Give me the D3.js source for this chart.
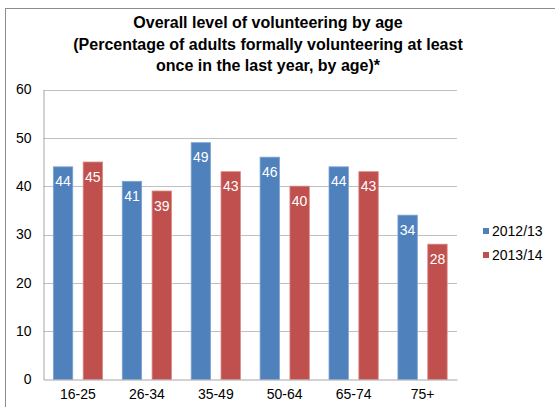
<!DOCTYPE html>
<html><head><meta charset="utf-8">
<script src="https://cdn.jsdelivr.net/npm/d3@7"></script>
<style>body{margin:0;background:#fff;}svg{display:block;font-family:"Liberation Sans",Arial,sans-serif;}</style>
</head><body><svg id="c" width="555" height="407"></svg>
<script>
const categories = ["16-25","26-34","35-49","50-64","65-74","75+"];
const seriesNames = ["2012/13","2013/14"];
const values2012 = [44,41,49,46,44,34];
const values2013 = [45,39,43,40,43,28];
const yTicks = [0,10,20,30,40,50,60];
const colors = ["#4F81BD","#C0504D"];
const strokes = ["#7FA3D3","#D98986"];

(function(){
const svg = d3.select("#c");
// frame
svg.append("rect").attr("x",5.5).attr("y",8.5).attr("width",560).attr("height",410)
  .attr("fill","#fff").attr("stroke","#8c8c8c").attr("stroke-width",1);

const titleLines = ["Overall level of volunteering by age","(Percentage of adults formally volunteering at least","once in the last year, by age)*"];
svg.append("g").selectAll("text").data(titleLines).join("text")
  .attr("x",268).attr("y",(d,i)=>28+i*21.5).attr("text-anchor","middle")
  .attr("font-size",16).attr("font-weight","bold").attr("fill","#000").text(d=>d);

const pLeft=43.5, pRight=457, pTop=89.5, pBottom=379.5;
const x0 = d3.scaleBand().domain(categories).range([pLeft,pRight]).paddingInner(0).paddingOuter(0);
const x1 = d3.scaleBand().domain(seriesNames).range([0,x0.bandwidth()]).paddingInner(0.35).paddingOuter(0.33);
const y = d3.scaleLinear().domain([0,60]).range([pBottom,pTop]);

// gridlines
svg.append("g").selectAll("line").data(yTicks.filter(t=>t>0)).join("line")
  .attr("x1",pLeft).attr("x2",pRight).attr("y1",d=>Math.round(y(d))+0.5).attr("y2",d=>Math.round(y(d))+0.5)
  .attr("stroke","#c0c0c0").attr("stroke-width",1);

// y axis
const yAxis = d3.axisLeft(y).tickValues(yTicks).tickSize(0).tickPadding(12);
const ga = svg.append("g").attr("transform",`translate(${pLeft},0)`).call(yAxis);
ga.select(".domain").attr("stroke","#a6a6a6");
ga.selectAll("text").attr("font-size",14).attr("fill","#000").attr("font-family","Liberation Sans, Arial, sans-serif");

// bars
const data = categories.map((c,i)=>({cat:c, vals:[values2012[i],values2013[i]]}));
const groups = svg.append("g").selectAll("g").data(data).join("g")
  .attr("transform",d=>`translate(${x0(d.cat)},0)`);
groups.selectAll("rect").data(d=>d.vals.map((v,j)=>({v,j}))).join("rect")
  .attr("x",d=>x1(seriesNames[d.j])).attr("width",x1.bandwidth())
  .attr("y",d=>y(d.v)).attr("height",d=>y(0)-y(d.v))
  .attr("fill",d=>colors[d.j]).attr("stroke",d=>strokes[d.j]).attr("stroke-width",0.8);
groups.selectAll("text").data(d=>d.vals.map((v,j)=>({v,j}))).join("text")
  .attr("x",d=>x1(seriesNames[d.j])+x1.bandwidth()/2).attr("y",d=>y(d.v)+19.5)
  .attr("text-anchor","middle").attr("font-size",14).attr("fill","#fff").text(d=>d.v);

// x axis
const xAxis = d3.axisBottom(x0).tickSize(0).tickPadding(10);
const gx = svg.append("g").attr("transform",`translate(0,${pBottom})`).call(xAxis);
gx.select(".domain").attr("stroke","#a6a6a6");
gx.selectAll("text").attr("font-size",14).attr("fill","#000").attr("font-family","Liberation Sans, Arial, sans-serif");

// legend
const lg = svg.append("g").selectAll("g").data(seriesNames).join("g")
  .attr("transform",(d,i)=>`translate(483,${231+i*24})`);
lg.append("rect").attr("x",0).attr("y",-3).attr("width",6).attr("height",6).attr("fill",(d,i)=>colors[i]);
lg.append("text").attr("x",9).attr("y",5).attr("font-size",14).attr("fill","#000").text(d=>d);
})();
</script></body></html>
